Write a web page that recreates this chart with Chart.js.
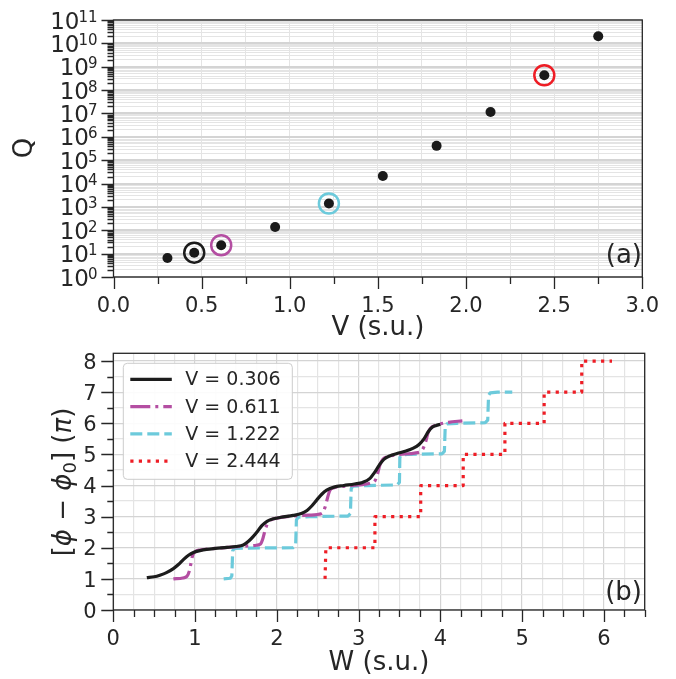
<!DOCTYPE html>
<html>
<head>
<meta charset="utf-8">
<script src="https://cdn.jsdelivr.net/npm/chart.js@4.4.1/dist/chart.umd.min.js"></script>
<style>
  html, body { margin: 0; padding: 0; background: #fff; }
  canvas { position: absolute; left: 0; }
  #chartA { top: 0; }
  #chartB { top: 340px; }
</style>
</head>
<body>
<canvas id="chartA" width="676" height="340"></canvas>
<canvas id="chartB" width="676" height="339"></canvas>
<script>
// ---- panel (a): Q vs V ----
const vValues = [0.306, 0.458, 0.611, 0.917, 1.222, 1.528, 1.833, 2.139, 2.444, 2.750];
const qValues = [6.5, 11, 23, 138, 1400, 2.1e4, 4.1e5, 1.15e7, 4.3e8, 2.0e10];
const markedV = [0.458, 0.611, 1.222, 2.444];
const markedQ = [11, 23, 1400, 4.3e8];
const xTicksA = [0, 0.5, 1, 1.5, 2, 2.5, 3];
const xTickLabelsA = ['0.0', '0.5', '1.0', '1.5', '2.0', '2.5', '3.0'];
const yExponentsA = [0, 1, 2, 3, 4, 5, 6, 7, 8, 9, 10, 11];

// ---- panel (b): phase vs W ----
const seriesLabels = ['V = 0.306', 'V = 0.611', 'V = 1.222', 'V = 2.444'];
const w306 = [0.41, 0.5, 0.57, 0.65, 0.735, 0.8, 0.857, 0.92, 0.98, 1.06, 1.14, 1.25, 1.39, 1.5, 1.59, 1.65, 1.71, 1.77, 1.82, 1.88, 1.96, 2.05, 2.2, 2.3, 2.37, 2.43, 2.49, 2.55, 2.61, 2.7, 2.82, 2.95, 3.05, 3.14, 3.19, 3.23, 3.27, 3.31, 3.38, 3.47, 3.57, 3.67, 3.74, 3.8, 3.85, 3.9, 3.95, 4.0];
const phi306 = [1.04, 1.07, 1.12, 1.2, 1.33, 1.47, 1.62, 1.76, 1.85, 1.91, 1.95, 1.98, 2.01, 2.04, 2.09, 2.2, 2.36, 2.55, 2.72, 2.85, 2.93, 2.98, 3.04, 3.1, 3.2, 3.35, 3.54, 3.72, 3.85, 3.95, 4.0, 4.05, 4.1, 4.23, 4.4, 4.56, 4.72, 4.84, 4.95, 5.03, 5.1, 5.2, 5.32, 5.5, 5.72, 5.87, 5.93, 5.97];
const w611 = [0.735, 0.85, 0.9, 0.93, 0.95, 0.97, 1.0, 1.06, 1.2, 1.4, 1.6, 1.75, 1.8, 1.83, 1.86, 1.89, 1.93, 2.0, 2.2, 2.4, 2.55, 2.59, 2.62, 2.65, 2.7, 2.8, 3.0, 3.15, 3.2, 3.23, 3.26, 3.3, 3.36, 3.5, 3.7, 3.78, 3.82, 3.85, 3.88, 3.95, 4.1, 4.27];
const phi611 = [1.0, 1.03, 1.08, 1.25, 1.5, 1.75, 1.87, 1.93, 1.97, 2.01, 2.05, 2.08, 2.12, 2.3, 2.6, 2.8, 2.9, 2.95, 3.02, 3.05, 3.1, 3.3, 3.6, 3.85, 3.93, 3.97, 4.02, 4.08, 4.15, 4.35, 4.65, 4.85, 4.93, 5.0, 5.05, 5.15, 5.4, 5.7, 5.84, 5.94, 6.03, 6.08];
const w1222 = [1.35, 1.43, 1.45, 1.46, 1.48, 1.6, 2.2, 2.23, 2.24, 2.26, 2.4, 2.87, 2.9, 2.91, 2.93, 3.1, 3.47, 3.5, 3.505, 3.52, 3.6, 4.02, 4.05, 4.06, 4.08, 4.2, 4.55, 4.58, 4.59, 4.61, 4.7, 4.88];
const phi1222 = [1.0, 1.02, 1.1, 1.9, 1.98, 1.99, 2.0, 2.05, 2.9, 2.98, 3.0, 3.02, 3.1, 3.9, 3.98, 4.0, 4.02, 4.1, 4.9, 4.98, 5.0, 5.02, 5.1, 5.9, 5.98, 6.0, 6.02, 6.1, 6.9, 6.98, 7.0, 7.0];
const w2444 = [2.59, 2.6, 3.2, 3.2, 3.76, 3.76, 4.28, 4.28, 4.79, 4.79, 5.27, 5.27, 5.73, 5.73, 6.1];
const phi2444 = [1.0, 2.0, 2.0, 3.0, 3.0, 4.0, 4.0, 5.0, 5.0, 6.0, 6.0, 7.0, 7.0, 8.0, 8.0];
const xTicksB = [0, 1, 2, 3, 4, 5, 6];
const xTickLabelsB = ['0', '1', '2', '3', '4', '5', '6'];
const yTicksB = [0, 1, 2, 3, 4, 5, 6, 7, 8];
const yTickLabelsB = ['0', '1', '2', '3', '4', '5', '6', '7', '8'];

// ---- styling ----
const FONT = "'DejaVu Sans', sans-serif";
const INK = '#262626';
const GRID_MAJOR = '#d4d4d4';
const GRID_MINOR = '#e4e4e4';
const seriesColors = ['#1c1c1c', '#b44ea2', '#6ccadb', '#ee1d25'];
const seriesDash = [[], [20, 5, 3, 5], [12, 5], [3.2, 5.3]];

Chart.defaults.font.family = FONT;
Chart.defaults.font.size = 21;
Chart.defaults.color = INK;
Chart.defaults.animation = false;

const near = (a, b) => Math.abs(a - b) < 1e-6;
const steps = (lo, hi, d) => { const r = []; for (let v = lo; v <= hi + 1e-9; v += d) r.push(+v.toFixed(4)); return r; };
const isDecade = v => near(Math.log10(v), Math.round(Math.log10(v)));

function pairs(xs, ys) { return xs.map((x, i) => ({ x: x, y: ys[i] })); }

// frame, tick marks and extra texts drawn on top of the chart
function decor(opt) {
  return {
    id: 'decor',
    afterDraw(chart) {
      const ctx = chart.ctx, a = chart.chartArea;
      const xs = chart.scales.x, ys = chart.scales.y;
      ctx.save();
      ctx.strokeStyle = INK;
      ctx.lineWidth = 1.3;
      ctx.beginPath();
      xs.ticks.forEach(t => {
        const p = Math.round(xs.getPixelForValue(t.value)) + 0.5;
        const len = opt.xMajor(t.value) ? 12 : 7;
        ctx.moveTo(p, a.bottom); ctx.lineTo(p, a.bottom + len);
      });
      ys.ticks.forEach(t => {
        const p = Math.round(ys.getPixelForValue(t.value)) + 0.5;
        const len = opt.yMajor(t.value) ? 12 : 6;
        ctx.moveTo(a.left, p); ctx.lineTo(a.left - len, p);
      });
      ctx.stroke();
      ctx.strokeRect(a.left, a.top, a.right - a.left, a.bottom - a.top);
      opt.extra(chart, ctx);
      ctx.restore();
    }
  };
}

// draw text runs [text, font, dy] centred at x
function runs(ctx, parts, x, y) {
  let total = 0;
  parts.forEach(p => { ctx.font = p[1]; total += ctx.measureText(p[0]).width; });
  let cx = x - total / 2;
  ctx.textAlign = 'left';
  ctx.textBaseline = 'alphabetic';
  parts.forEach(p => {
    ctx.font = p[1];
    ctx.fillText(p[0], cx, y + (p[2] || 0));
    cx += ctx.measureText(p[0]).width;
  });
}

// ---------------- chart (a) ----------------
const yTicksA = [];
yExponentsA.forEach(e => {
  for (let m = 1; m <= 9; m++) { if (e < 11 || m === 1) yTicksA.push(m * Math.pow(10, e)); }
});

new Chart(document.getElementById('chartA'), {
  type: 'scatter',
  data: {
    datasets: [
      {
        data: pairs(vValues, qValues),
        pointRadius: 5, pointHoverRadius: 5,
        backgroundColor: '#1a1a1a', borderWidth: 0
      },
      {
        data: pairs(markedV, markedQ),
        pointRadius: 10, pointHoverRadius: 10,
        backgroundColor: 'rgba(0,0,0,0)',
        borderColor: seriesColors, pointBorderColor: seriesColors,
        borderWidth: 2.5
      }
    ]
  },
  options: {
    responsive: false,
    devicePixelRatio: 1,
    events: [],
    layout: { padding: { top: 20, right: 31.5, left: 0, bottom: 0 } },
    plugins: { legend: { display: false }, tooltip: { enabled: false } },
    scales: {
      x: {
        type: 'linear', min: 0, max: 3,
        afterBuildTicks: s => { s.ticks = steps(0, 3, 0.25).map(v => ({ value: v })); },
        afterFit: s => { s.height = 63; },
        border: { display: false },
        grid: { color: GRID_MINOR, lineWidth: 1, drawTicks: false },
        ticks: {
          autoSkip: false, maxRotation: 0, padding: 17,
          callback: v => { const i = xTicksA.findIndex(t => near(t, v)); return i < 0 ? '' : xTickLabelsA[i]; }
        }
      },
      y: {
        type: 'logarithmic', min: 1, max: 1e11,
        afterBuildTicks: s => { s.ticks = yTicksA.map(v => ({ value: v })); },
        afterFit: s => { s.width = 113.5; },
        border: { display: false },
        grid: {
          drawTicks: false,
          color: c => isDecade(c.tick.value) ? GRID_MAJOR : GRID_MINOR,
          lineWidth: c => isDecade(c.tick.value) ? 2 : 1
        },
        ticks: { display: false }
      }
    }
  },
  plugins: [decor({
    xMajor: v => xTicksA.some(t => near(t, v)),
    yMajor: v => isDecade(v),
    extra: (chart, ctx) => {
      const ys = chart.scales.y;
      ctx.fillStyle = INK;
      ctx.textBaseline = 'alphabetic';
      yExponentsA.forEach(e => {
        const p = ys.getPixelForValue(Math.pow(10, e));
        ctx.font = '15px ' + FONT;
        const ew = ctx.measureText(String(e)).width;
        ctx.textAlign = 'left';
        ctx.fillText(String(e), 97.5 - ew, p + 1.5);
        ctx.font = '23px ' + FONT;
        ctx.textAlign = 'right';
        ctx.fillText('10', 97.5 - ew + 1, p + 8.5);
      });
      // axis titles
      ctx.textAlign = 'center';
      ctx.font = '26px ' + FONT;
      ctx.fillText('V (s.u.)', (chart.chartArea.left + chart.chartArea.right) / 2, 335);
      ctx.save();
      ctx.translate(32, 148);
      ctx.rotate(-Math.PI / 2);
      ctx.fillText('Q', 0, 0);
      ctx.restore();
      ctx.textAlign = 'right';
      ctx.fillText('(a)', 642, 263);
    }
  })]
});

// ---------------- chart (b) ----------------
const seriesW = [w306, w611, w1222, w2444];
const seriesPhi = [phi306, phi611, phi1222, phi2444];

new Chart(document.getElementById('chartB'), {
  type: 'scatter',
  data: {
    datasets: seriesLabels.map((lab, i) => ({
      label: lab,
      data: pairs(seriesW[i], seriesPhi[i]),
      showLine: true,
      pointRadius: 0, pointHoverRadius: 0,
      borderColor: seriesColors[i],
      backgroundColor: seriesColors[i],
      borderWidth: 3.2,
      borderDash: seriesDash[i],
      borderCapStyle: 'butt',
      borderJoinStyle: 'round',
      cubicInterpolationMode: i < 2 ? 'monotone' : 'default',
      tension: 0
    }))
  },
  options: {
    responsive: false,
    devicePixelRatio: 1,
    events: [],
    layout: { padding: { top: 13.3, right: 31.3, left: 0, bottom: 0 } },
    plugins: { legend: { display: false }, tooltip: { enabled: false } },
    scales: {
      x: {
        type: 'linear', min: 0, max: 6.5,
        afterBuildTicks: s => { s.ticks = steps(0, 6.5, 0.25).map(v => ({ value: v })); },
        afterFit: s => { s.height = 69; },
        border: { display: false },
        grid: {
          drawTicks: false,
          color: c => xTicksB.some(t => near(t, c.tick.value)) ? GRID_MAJOR : GRID_MINOR,
          lineWidth: 1.2
        },
        ticks: {
          autoSkip: false, maxRotation: 0, padding: 17,
          callback: v => { const i = xTicksB.findIndex(t => near(t, v)); return i < 0 ? '' : xTickLabelsB[i]; }
        }
      },
      y: {
        type: 'linear', min: 0, max: 8.25,
        afterBuildTicks: s => { s.ticks = steps(0, 8, 0.5).map(v => ({ value: v })); },
        afterFit: s => { s.width = 113.3; },
        border: { display: false },
        grid: {
          drawTicks: false,
          color: c => yTicksB.some(t => near(t, c.tick.value)) ? GRID_MAJOR : GRID_MINOR,
          lineWidth: 1.2
        },
        ticks: { display: false }
      }
    }
  },
  plugins: [decor({
    xMajor: v => xTicksB.some(t => near(t, v)),
    yMajor: v => yTicksB.some(t => near(t, v)),
    extra: (chart, ctx) => {
      const a = chart.chartArea, ys = chart.scales.y;
      // y tick labels
      ctx.fillStyle = INK;
      ctx.font = '21px ' + FONT;
      ctx.textAlign = 'right';
      ctx.textBaseline = 'alphabetic';
      yTicksB.forEach((v, i) => {
        ctx.fillText(yTickLabelsB[i], 96.5, ys.getPixelForValue(v) + 7.7);
      });
      // legend
      const bx = a.left + 10, by = a.top + 10, bw = 169, bh = 116;
      ctx.beginPath();
      ctx.roundRect(bx, by, bw, bh, 4);
      ctx.fillStyle = 'rgba(255,255,255,0.9)';
      ctx.fill();
      ctx.strokeStyle = '#cccccc';
      ctx.lineWidth = 1;
      ctx.stroke();
      seriesLabels.forEach((lab, i) => {
        const yy = by + 16 + i * 27.3;
        ctx.strokeStyle = seriesColors[i];
        ctx.lineWidth = 3.2;
        ctx.lineCap = 'butt';
        ctx.setLineDash(seriesDash[i]);
        ctx.beginPath();
        ctx.moveTo(bx + 7, yy); ctx.lineTo(bx + 48.5, yy);
        ctx.stroke();
        ctx.setLineDash([]);
        ctx.fillStyle = INK;
        ctx.font = '19px ' + FONT;
        ctx.textAlign = 'left';
        ctx.textBaseline = 'middle';
        ctx.fillText(lab, bx + 62, yy + 1);
      });
      ctx.fillStyle = INK;
      ctx.textBaseline = 'alphabetic';
      ctx.textAlign = 'center';
      ctx.font = '26px ' + FONT;
      ctx.fillText('W (s.u.)', (a.left + a.right) / 2, 330);
      ctx.textAlign = 'right';
      ctx.fillText('(b)', 642, 260);
      // y title, rotated
      ctx.save();
      ctx.translate(71, 142);
      ctx.rotate(-Math.PI / 2);
      const n = '26px ' + FONT, it = 'italic 26px ' + FONT, sub = '18px ' + FONT;
      runs(ctx, [['[', n], ['ϕ', it], [' − ', n], ['ϕ', it], ['0', sub, 5], [']', n], [' (', n], ['π', it], [')', n]], 0, 0);
      ctx.restore();
    }
  })]
});
</script>
</body>
</html>
